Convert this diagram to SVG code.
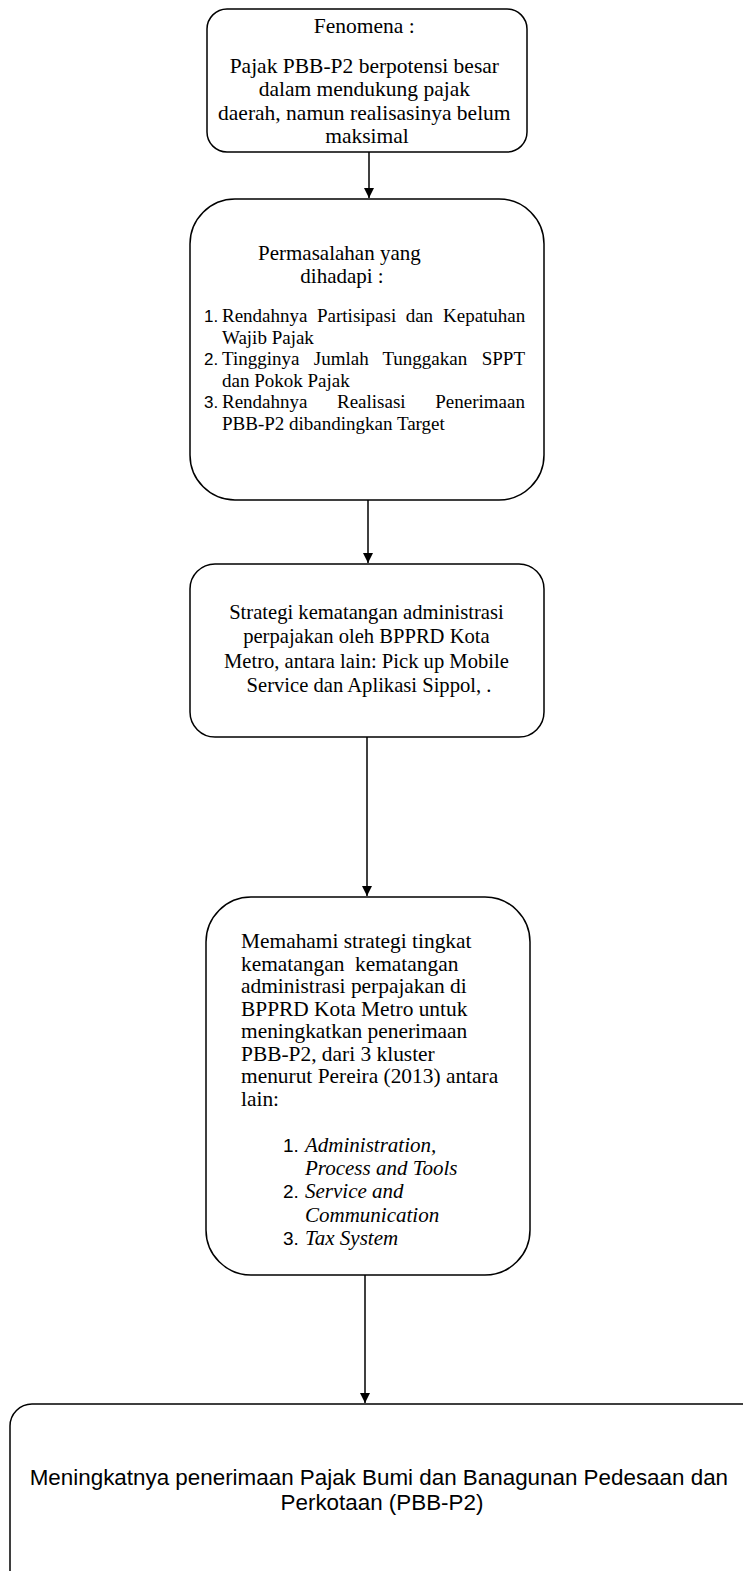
<svg xmlns="http://www.w3.org/2000/svg" width="743" height="1571" viewBox="0 0 743 1571">
<defs>
<style>
.box{fill:#fff;stroke:#000;stroke-width:1.5}
.t{font-family:"Liberation Serif","Times New Roman",serif;fill:#000}
.s{font-family:"Liberation Sans",Arial,sans-serif;fill:#000}
.i{font-style:italic}
.c{stroke:#000;stroke-width:1.5;fill:none}
</style>
<marker id="ah" viewBox="0 0 10 10" refX="10" refY="5" markerWidth="10" markerHeight="10" markerUnits="userSpaceOnUse" orient="auto">
<path d="M0,0 L10,5 L0,10 Z" fill="#000"/>
</marker>
</defs>
<rect width="743" height="1571" fill="#fff"/>
<g id="connectors">
<line class="c" x1="369" y1="152" x2="369" y2="198" marker-end="url(#ah)"/>
<line class="c" x1="368" y1="500" x2="368" y2="563" marker-end="url(#ah)"/>
<line class="c" x1="367" y1="737" x2="367" y2="896" marker-end="url(#ah)"/>
<line class="c" x1="365" y1="1275" x2="365" y2="1403" marker-end="url(#ah)"/>
</g>
<g id="fenomena">
<rect class="box" x="207" y="9" width="320" height="143" rx="20"/>
<text class="t" font-size="21.5" text-anchor="middle">
<tspan x="367" y="33">Fenomena :</tspan>
<tspan x="367" y="73">Pajak PBB-P2 berpotensi besar</tspan>
<tspan x="367" y="96">dalam mendukung pajak</tspan>
<tspan x="367" y="120">daerah, namun realisasinya belum</tspan>
<tspan x="367" y="143">maksimal</tspan>
</text>
</g>
<g id="permasalahan">
<rect class="box" x="190" y="199" width="354" height="301" rx="45"/>
<text class="t" font-size="21" text-anchor="middle">
<tspan x="342" y="260">Permasalahan yang</tspan>
<tspan x="342" y="283">dihadapi :</tspan>
</text>
<text class="s" font-size="17">
<tspan x="204" y="322">1.</tspan>
<tspan x="204" y="365">2.</tspan>
<tspan x="204" y="408">3.</tspan>
</text>
<text class="t" font-size="19">
<tspan x="222" y="322">Rendahnya</tspan><tspan x="317" y="322">Partisipasi</tspan><tspan x="405.7" y="322">dan</tspan><tspan x="443" y="322">Kepatuhan</tspan>
<tspan x="222" y="344">Wajib Pajak</tspan>
<tspan x="222" y="365">Tingginya</tspan><tspan x="313.8" y="365">Jumlah</tspan><tspan x="382.4" y="365">Tunggakan</tspan><tspan x="481.7" y="365">SPPT</tspan>
<tspan x="222" y="387">dan Pokok Pajak</tspan>
<tspan x="222" y="408">Rendahnya</tspan><tspan x="337" y="408">Realisasi</tspan><tspan x="435.3" y="408">Penerimaan</tspan>
<tspan x="222" y="430">PBB-P2 dibandingkan Target</tspan>
</text>
</g>
<g id="strategi">
<rect class="box" x="190" y="564" width="354" height="173" rx="25"/>
<text class="t" font-size="20.6" text-anchor="middle">
<tspan x="369" y="619">Strategi kematangan administrasi</tspan>
<tspan x="369" y="643">perpajakan oleh BPPRD Kota</tspan>
<tspan x="369" y="668">Metro, antara lain: Pick up Mobile</tspan>
<tspan x="369" y="692">Service dan Aplikasi Sippol, .</tspan>
</text>
</g>
<g id="memahami">
<rect class="box" x="206" y="897" width="324" height="378" rx="45"/>
<text class="t" font-size="21.4">
<tspan x="241" y="948">Memahami strategi tingkat</tspan>
<tspan x="241" y="970.5">kematangan&#160; kematangan</tspan>
<tspan x="241" y="993">administrasi perpajakan di</tspan>
<tspan x="241" y="1015.5">BPPRD Kota Metro untuk</tspan>
<tspan x="241" y="1038">meningkatkan penerimaan</tspan>
<tspan x="241" y="1060.5">PBB-P2, dari 3 kluster</tspan>
<tspan x="241" y="1083">menurut Pereira (2013) antara</tspan>
<tspan x="241" y="1105.5">lain:</tspan>
</text>
<text class="s" font-size="19">
<tspan x="283" y="1152">1.</tspan>
<tspan x="283" y="1198">2.</tspan>
<tspan x="283" y="1245">3.</tspan>
</text>
<text class="t i" font-size="21">
<tspan x="305" y="1152">Administration,</tspan>
<tspan x="305" y="1175">Process and Tools</tspan>
<tspan x="305" y="1198">Service and</tspan>
<tspan x="305" y="1222">Communication</tspan>
<tspan x="305" y="1245">Tax System</tspan>
</text>
</g>
<g id="meningkatnya">
<rect class="box" x="10" y="1404" width="760" height="190" rx="22"/>
<text class="s" font-size="22.4" text-anchor="middle">
<tspan x="382" y="1485">Meningkatnya penerimaan Pajak Bumi dan Banagunan Pedesaan dan</tspan>
<tspan x="382" y="1510">Perkotaan (PBB-P2)</tspan>
</text>
</g>
</svg>
